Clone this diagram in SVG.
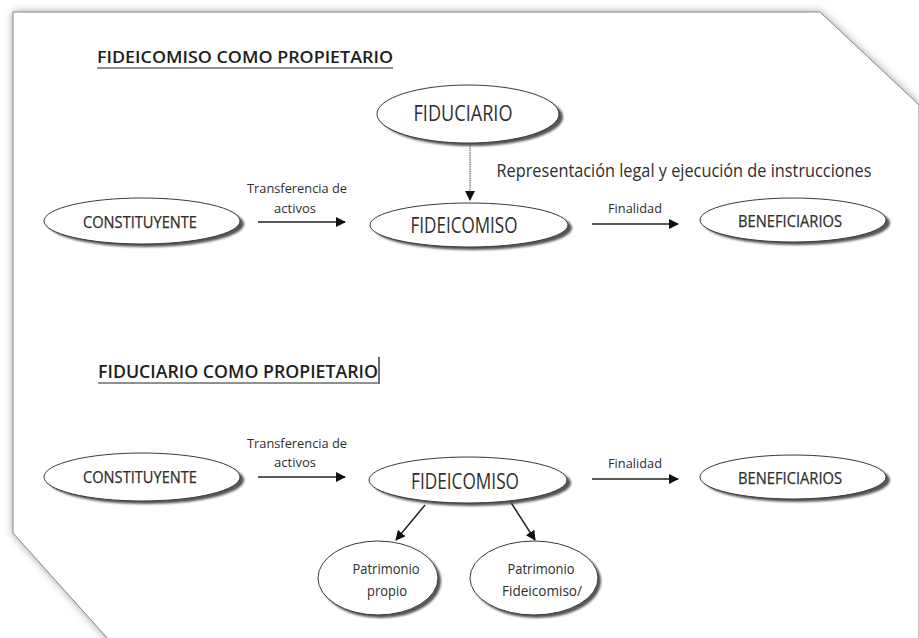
<svg xmlns="http://www.w3.org/2000/svg" width="919" height="638" viewBox="0 0 919 638">
  <defs>
    <filter id="glow" x="-10%" y="-10%" width="120%" height="120%">
      <feGaussianBlur stdDeviation="4"/>
    </filter>
    <filter id="soft" x="-20%" y="-40%" width="140%" height="180%">
      <feGaussianBlur stdDeviation="1.2"/>
    </filter>
    <marker id="arrow" viewBox="0 0 10 10" refX="9" refY="5" markerWidth="10" markerHeight="10" markerUnits="userSpaceOnUse" orient="auto">
      <path d="M0,0 L10,5 L0,10 z" fill="#111"/>
    </marker>
    <style>
      .node { fill: #ffffff; stroke: #3a3a3a; stroke-width: 1; }
      .shadow { fill: #555; filter: url(#soft); }
      .lbl { font-family: "Open Sans", "Liberation Sans", sans-serif; fill: #2e2e2e; text-anchor: middle; }
      .nl { stroke: #2e2e2e; stroke-width: 0.25; }
      .title { font-family: "Open Sans", "Liberation Sans", sans-serif; font-weight: 600; fill: #1e1e1e; }
      .edge { stroke: #222; stroke-width: 1.5; fill: none; marker-end: url(#arrow); }
    </style>
  </defs>

  <rect width="919" height="638" fill="#ffffff"/>

  <!-- page sheet with clipped corners -->
  <polygon points="13,12 820,12 919,105 919,650 118,650 13,533" fill="#9a9a9a" filter="url(#glow)"/>
  <polygon points="13,12 820,12 919,105 919,650 118,650 13,533" fill="#ffffff" stroke="#8a8a8a" stroke-width="1"/>

  <!-- section titles -->
  <g id="title-1">
    <text class="title" x="97" y="63" font-size="17" textLength="296" lengthAdjust="spacingAndGlyphs">FIDEICOMISO COMO PROPIETARIO</text>
    <line x1="97" y1="68" x2="393" y2="68" stroke="#222" stroke-width="1.2"/>
  </g>
  <g id="title-2">
    <text class="title" x="98" y="378" font-size="17.5" textLength="280" lengthAdjust="spacingAndGlyphs">FIDUCIARIO COMO PROPIETARIO</text>
    <line x1="98" y1="383" x2="378" y2="383" stroke="#222" stroke-width="1.2"/>
    <line x1="379" y1="357" x2="379" y2="384" stroke="#222" stroke-width="1.3"/>
  </g>

  <!-- connectors -->
  <g id="connectors">
    <line x1="470" y1="143" x2="470" y2="200" stroke="#444" stroke-width="1" stroke-dasharray="1.5 0.8" marker-end="url(#arrow)"/>
    <line class="edge" x1="258" y1="222" x2="345" y2="222"/>
    <line class="edge" x1="592" y1="224" x2="678" y2="224"/>
    <line class="edge" x1="258" y1="477" x2="345" y2="477"/>
    <line class="edge" x1="592" y1="479" x2="678" y2="479"/>
    <line class="edge" x1="425" y1="505" x2="396" y2="540"/>
    <line class="edge" x1="510" y1="501" x2="535" y2="540"/>
    <text class="lbl" x="297" y="193" font-size="13.5" textLength="100" lengthAdjust="spacingAndGlyphs">Transferencia de</text>
    <text class="lbl" x="295" y="213" font-size="13.5" textLength="42" lengthAdjust="spacingAndGlyphs">activos</text>
    <text class="lbl" x="635" y="213" font-size="13.5" textLength="54" lengthAdjust="spacingAndGlyphs">Finalidad</text>
    <text class="lbl" x="684" y="177" font-size="18" textLength="375" lengthAdjust="spacingAndGlyphs">Representación legal y ejecución de instrucciones</text>
    <text class="lbl" x="297" y="448" font-size="13.5" textLength="100" lengthAdjust="spacingAndGlyphs">Transferencia de</text>
    <text class="lbl" x="295" y="467" font-size="13.5" textLength="42" lengthAdjust="spacingAndGlyphs">activos</text>
    <text class="lbl" x="635" y="468" font-size="13.5" textLength="54" lengthAdjust="spacingAndGlyphs">Finalidad</text>
  </g>

  <!-- upper scheme -->
  <g id="fiduciario-1">
    <ellipse class="shadow" cx="472" cy="117" rx="91" ry="29"/>
    <ellipse class="node" cx="468" cy="114" rx="91" ry="29"/>
    <text class="lbl" x="463" y="121" font-size="21" textLength="99" lengthAdjust="spacingAndGlyphs">FIDUCIARIO</text>
  </g>
  <g id="constituyente-1">
    <ellipse class="shadow" cx="146" cy="224" rx="98" ry="23"/>
    <ellipse class="node" cx="142" cy="221" rx="98" ry="23"/>
    <text class="lbl nl" x="140" y="228" font-size="17" textLength="114" lengthAdjust="spacingAndGlyphs">CONSTITUYENTE</text>
  </g>
  <g id="fideicomiso-1">
    <ellipse class="shadow" cx="473" cy="228" rx="99" ry="22"/>
    <ellipse class="node" cx="469" cy="225" rx="99" ry="22"/>
    <text class="lbl" x="464" y="233" font-size="21" textLength="107" lengthAdjust="spacingAndGlyphs">FIDEICOMISO</text>
  </g>
  <g id="beneficiarios-1">
    <ellipse class="shadow" cx="797" cy="223" rx="93" ry="22"/>
    <ellipse class="node" cx="793" cy="220" rx="93" ry="22"/>
    <text class="lbl nl" x="790" y="227" font-size="16.5" textLength="104" lengthAdjust="spacingAndGlyphs">BENEFICIARIOS</text>
  </g>

  <!-- lower scheme -->
  <g id="constituyente-2">
    <ellipse class="shadow" cx="146" cy="480" rx="98" ry="24"/>
    <ellipse class="node" cx="142" cy="477" rx="98" ry="24"/>
    <text class="lbl nl" x="140" y="483" font-size="17" textLength="114" lengthAdjust="spacingAndGlyphs">CONSTITUYENTE</text>
  </g>
  <g id="fideicomiso-2">
    <ellipse class="shadow" cx="472" cy="483" rx="99" ry="23"/>
    <ellipse class="node" cx="468" cy="480" rx="99" ry="23"/>
    <text class="lbl" x="465" y="489" font-size="21" textLength="108" lengthAdjust="spacingAndGlyphs">FIDEICOMISO</text>
  </g>
  <g id="beneficiarios-2">
    <ellipse class="shadow" cx="797" cy="480" rx="93" ry="22"/>
    <ellipse class="node" cx="793" cy="477" rx="93" ry="22"/>
    <text class="lbl nl" x="790" y="484" font-size="16.5" textLength="104" lengthAdjust="spacingAndGlyphs">BENEFICIARIOS</text>
  </g>
  <g id="patrimonio-propio">
    <ellipse class="shadow" cx="381" cy="581" rx="60" ry="37"/>
    <ellipse class="node" cx="378" cy="578" rx="60" ry="37"/>
    <text class="lbl" x="386" y="574" font-size="14.5" textLength="67" lengthAdjust="spacingAndGlyphs">Patrimonio</text>
    <text class="lbl" x="387" y="596" font-size="14.5" textLength="40" lengthAdjust="spacingAndGlyphs">propio</text>
  </g>
  <g id="patrimonio-fideicomiso">
    <ellipse class="shadow" cx="537" cy="581" rx="64" ry="37"/>
    <ellipse class="node" cx="534" cy="578" rx="64" ry="37"/>
    <text class="lbl" x="541" y="574" font-size="14.5" textLength="67" lengthAdjust="spacingAndGlyphs">Patrimonio</text>
    <text class="lbl" x="542" y="596" font-size="14.5" textLength="80" lengthAdjust="spacingAndGlyphs">Fideicomiso/</text>
  </g>
</svg>
